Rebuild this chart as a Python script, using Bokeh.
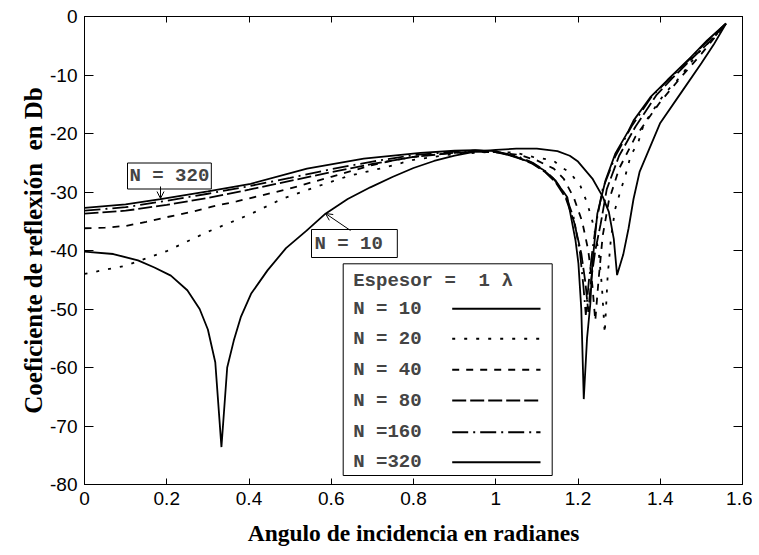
from bokeh.plotting import figure
from bokeh.models import (LinearAxis, FixedTicker, Label, Arrow, OpenHead,
                          BoxAnnotation, Range1d, CustomJSTickFormatter)
from bokeh.embed import file_html
from bokeh.resources import INLINE

# ---------------- data ----------------
x_ticks = [0, 0.2, 0.4, 0.6, 0.8, 1.0, 1.2, 1.4, 1.6]
x_tick_labels = ["0", "0.2", "0.4", "0.6", "0.8", "1", "1.2", "1.4", "1.6"]
y_ticks = [-80, -70, -60, -50, -40, -30, -20, -10, 0]
y_tick_labels = ["-80", "-70", "-60", "-50", "-40", "-30", "-20", "-10", "0"]

x10 = [0, 0.07, 0.13, 0.17, 0.21, 0.25, 0.28, 0.30, 0.318, 0.333, 0.347, 0.363,
       0.38, 0.405, 0.445, 0.49, 0.54, 0.586, 0.64, 0.695, 0.75, 0.8, 0.85, 0.9,
       0.95, 1.0, 1.05, 1.1, 1.15, 1.18, 1.2, 1.235, 1.26, 1.275, 1.287, 1.295,
       1.31, 1.323, 1.335, 1.35, 1.40, 1.45, 1.50, 1.53, 1.56]
y10 = [-40.2, -40.6, -41.7, -42.9, -44.3, -46.8, -50.0, -53.5, -59.1, -73.6, -60.0, -55.4,
       -51.4, -47.4, -43.4, -39.6, -36.6, -33.7, -31.2, -29.2, -27.4, -25.9, -24.7, -23.8,
       -23.1, -22.8, -22.6, -22.6, -23.0, -23.8, -24.8, -27.7, -30.8, -33.4, -38.0, -44.2,
       -40.7, -36.2, -31.2, -26.5, -18.2, -13.1, -8.0, -4.8, -1.2]

x20 = [0, 0.1, 0.2, 0.3, 0.4, 0.48, 0.56, 0.64, 0.73, 0.8, 0.9, 1.0, 1.05, 1.09,
       1.14, 1.16, 1.18, 1.206, 1.222, 1.235, 1.25, 1.258, 1.265, 1.272, 1.28, 1.29,
       1.303, 1.316, 1.328, 1.347, 1.36, 1.41, 1.44, 1.466, 1.49, 1.53, 1.56]
y20 = [-44.0, -42.6, -40.1, -36.8, -33.9, -31.2, -29.2, -27.3, -25.8, -24.5, -23.5, -23.1,
       -23.3, -24.0, -24.6, -25.8, -26.6, -29.0, -31.8, -35.0, -40.0, -46.0, -54.2, -44.5,
       -38.0, -33.0, -29.9, -27.0, -23.8, -21.4, -18.4, -13.2, -11.0, -8.7, -6.4, -3.6, -1.2]

x40 = [0, 0.05, 0.1, 0.15, 0.2, 0.26, 0.31, 0.37, 0.43, 0.5, 0.55, 0.6, 0.65, 0.7,
       0.75, 0.8, 0.85, 0.9, 0.95, 1.0, 1.06, 1.1, 1.141, 1.165, 1.19, 1.21, 1.225,
       1.235, 1.242, 1.25, 1.26, 1.275, 1.3, 1.34, 1.4, 1.45, 1.5, 1.56]
y40 = [-36.2, -36.1, -35.8, -35.1, -34.3, -33.4, -32.5, -31.6, -30.6, -29.4, -28.4, -27.4,
       -26.4, -25.4, -24.6, -24.0, -23.6, -23.3, -23.1, -23.2, -23.7, -24.6, -26.0, -27.7,
       -31.0, -35.0, -40.0, -46.0, -52.0, -45.0, -37.5, -31.5, -26.0, -20.5, -14.6, -10.4,
       -6.4, -1.2]

x80 = [0, 0.1, 0.2, 0.3, 0.4, 0.5, 0.6, 0.7, 0.8, 0.9, 0.95, 1.0, 1.05, 1.09, 1.12,
       1.145, 1.17, 1.19, 1.208, 1.218, 1.225, 1.232, 1.242, 1.255, 1.27, 1.3, 1.34,
       1.39, 1.43, 1.48, 1.52, 1.56]
y80 = [-33.7, -33.2, -32.2, -31.0, -29.6, -28.1, -26.6, -25.2, -24.0, -23.3, -23.1, -23.2,
       -24.0, -25.2, -26.6, -28.3, -31.0, -35.0, -40.5, -45.5, -50.5, -45.0, -40.0, -35.5,
       -29.5, -23.8, -18.8, -13.5, -10.5, -7.0, -4.3, -1.2]

x160 = [0, 0.1, 0.2, 0.3, 0.4, 0.5, 0.6, 0.7, 0.8, 0.9, 0.95, 1.0, 1.05, 1.09, 1.12,
        1.145, 1.17, 1.19, 1.205, 1.213, 1.219, 1.226, 1.235, 1.245, 1.26, 1.29, 1.33,
        1.38, 1.42, 1.47, 1.51, 1.56]
y160 = [-33.2, -32.6, -31.5, -30.3, -29.0, -27.6, -26.1, -24.8, -23.7, -23.1, -22.9, -23.1,
        -23.8, -25.0, -26.4, -28.0, -30.6, -34.5, -40.5, -46.0, -51.0, -45.5, -40.0, -35.0,
        -29.5, -24.0, -18.8, -13.6, -10.8, -7.4, -4.5, -1.2]

x320 = [0, 0.1, 0.185, 0.3, 0.404, 0.541, 0.679, 0.817, 0.9, 0.95, 1.0, 1.036, 1.085,
        1.117, 1.14, 1.165, 1.174, 1.194, 1.201, 1.208, 1.214, 1.222, 1.23, 1.235, 1.247,
        1.267, 1.291, 1.323, 1.335, 1.376, 1.417, 1.474, 1.514, 1.56]
y320 = [-32.7, -32.1, -31.2, -29.9, -28.6, -26.0, -24.3, -23.3, -22.95, -22.85, -23.0,
        -23.8, -24.9, -26.3, -27.7, -30.0, -30.9, -38.3, -42.2, -50.0, -65.4, -55.0, -49.1,
        -42.2, -33.7, -28.0, -23.4, -19.5, -17.8, -13.8, -10.9, -7.0, -4.1, -1.2]

NB = "\u00a0"  # non-breaking space keeps double spaces visible
series_labels = ["N = 10", "N = 20", "N = 40", "N = 80", "N =160", "N =320"]
series_x = [x10, x20, x40, x80, x160, x320]
series_y = [y10, y20, y40, y80, y160, y320]
series_dash = ["solid", "3 9", "7 7", "14 4", "16 5 2 5", "solid"]

# ---------------- layout helpers (pixel -> data) ----------------
FL, FR, FT, FB = 84.0, 742.0, 16.0, 484.0  # frame edges in page pixels


def dx(px):
    return (px - FL) / (FR - FL) * 1.6


def dy(py):
    return -(py - FT) / (FB - FT) * 80.0


MONO = "Liberation Mono"
SERIF = "Liberation Serif"
SANS = "Liberation Sans"

p = figure(width=752, height=553, x_range=Range1d(0, 1.6), y_range=Range1d(-80, 0),
           output_backend="svg", toolbar_location=None,
           min_border_left=84, min_border_right=10, min_border_top=16, min_border_bottom=69)
p.background_fill_color = "white"
p.border_fill_color = "white"
p.xgrid.visible = False
p.ygrid.visible = False
p.outline_line_color = "black"
p.outline_line_width = 1

for ax, ticks, labels, tick_len in ((p.xaxis[0], x_ticks, x_tick_labels, 6),
                                    (p.yaxis[0], y_ticks, y_tick_labels, 9)):
    ax.ticker = FixedTicker(ticks=ticks)
    ax.major_label_overrides = dict(zip(ticks, labels))
    ax.major_tick_in = tick_len
    ax.major_tick_out = 0
    ax.minor_tick_in = 0
    ax.minor_tick_out = 0
    ax.axis_line_color = "black"
    ax.major_tick_line_color = "black"
    ax.major_label_text_font = SANS
    ax.major_label_text_font_size = "19px"
    ax.major_label_text_color = "black"
    ax.axis_label_text_font = SERIF
    ax.axis_label_text_font_style = "bold"
    ax.axis_label_text_color = "black"

p.xaxis[0].axis_label_text_font_size = "23.5px"
p.yaxis[0].axis_label_text_font_size = "25px"
p.xaxis[0].major_label_standoff = 7
p.xaxis[0].axis_label_standoff = 12
p.yaxis[0].major_label_standoff = 7
p.yaxis[0].axis_label_standoff = 0
p.xaxis[0].axis_label = "Angulo de incidencia en radianes"
p.yaxis[0].axis_label = "Coeficiente de reflexión " + NB + "en Db"

blank = CustomJSTickFormatter(code="return ''")
top = LinearAxis(ticker=FixedTicker(ticks=x_ticks), formatter=blank, major_tick_in=6,
                 major_tick_out=0, minor_tick_in=0, minor_tick_out=0,
                 major_label_standoff=0, axis_line_color="black")
right = LinearAxis(ticker=FixedTicker(ticks=y_ticks), formatter=blank, major_tick_in=9,
                   major_tick_out=0, minor_tick_in=0, minor_tick_out=0,
                   major_label_standoff=0, axis_line_color="black")
p.add_layout(top, "above")
p.add_layout(right, "right")

# ---------------- curves ----------------
for xs, ys, dash in zip(series_x, series_y, series_dash):
    p.line(xs, ys, line_color="black", line_width=1.8, line_dash=dash)

# ---------------- callouts ----------------
p.add_layout(Label(x=dx(127), y=dy(175.5), text="N = 320", text_font=MONO,
                   text_font_style="bold", text_font_size="19px", text_baseline="middle",
                   text_align="left", border_line_color="black", border_line_width=1,
                   background_fill_color="white", padding=2))
p.add_layout(Arrow(x_start=dx(160), y_start=dy(186), x_end=dx(160), y_end=dy(198),
                   line_color="black", line_width=1,
                   end=OpenHead(size=7, line_color="black", line_width=1)))

p.add_layout(Label(x=dx(311), y=dy(243), text="N = 10" + NB, text_font=MONO,
                   text_font_style="bold", text_font_size="19px", text_baseline="middle",
                   text_align="left", border_line_color="black", border_line_width=1,
                   background_fill_color="white", padding=3))
p.add_layout(Arrow(x_start=dx(350), y_start=dy(230), x_end=dx(325), y_end=dy(213),
                   line_color="black", line_width=1,
                   end=OpenHead(size=7, line_color="black", line_width=1)))

# ---------------- legend box ----------------
p.add_layout(BoxAnnotation(left=dx(342.7), right=dx(551.7), top=dy(263.3), bottom=dy(475),
                           fill_color="white", fill_alpha=1, line_color="black",
                           line_width=1, line_alpha=1))
p.add_layout(Label(x=dx(352.7), y=dy(280), text="Espesor = " + NB + "1 λ", text_font=MONO,
                   text_font_style="bold", text_font_size="19px", text_baseline="middle",
                   text_align="left"))
row_py = [308.3, 338.3, 369.3, 400, 431.7, 461.7]
for lab, dash, py in zip(series_labels, series_dash, row_py):
    p.add_layout(Label(x=dx(352.7), y=dy(py), text=lab, text_font=MONO,
                       text_font_style="bold", text_font_size="19px",
                       text_baseline="middle", text_align="left"))
    p.add_layout(Arrow(x_start=dx(451.7), y_start=dy(py), x_end=dx(540), y_end=dy(py),
                       line_color="black", line_width=2, line_dash=dash, end=None))

open("out.html", "w").write(file_html(p, INLINE))
